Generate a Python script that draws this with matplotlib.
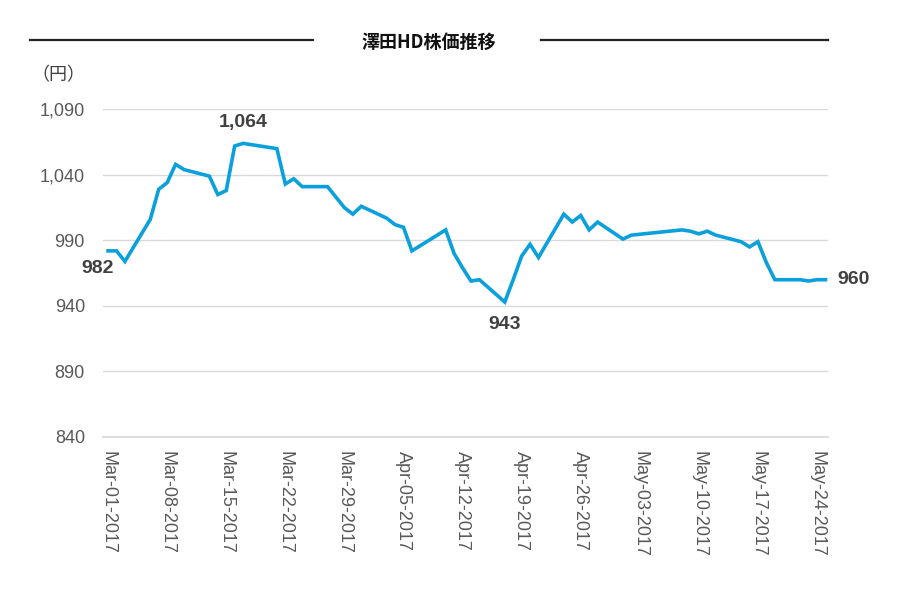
import matplotlib
matplotlib.use("Agg")
import matplotlib.pyplot as plt
import matplotlib.dates as mdates
from matplotlib.lines import Line2D
from matplotlib.ticker import FuncFormatter
import pandas as pd

plt.rcParams['font.family'] = ['Liberation Sans', 'Noto Sans CJK JP', 'DejaVu Sans']

title = "澤田HD株価推移"
unit_label = "（円）"

dates = [
    "2017-03-01", "2017-03-02", "2017-03-03", "2017-03-06", "2017-03-07", "2017-03-08",
    "2017-03-09", "2017-03-10", "2017-03-13", "2017-03-14", "2017-03-15", "2017-03-16",
    "2017-03-17", "2017-03-21", "2017-03-22", "2017-03-23", "2017-03-24", "2017-03-27",
    "2017-03-28", "2017-03-29", "2017-03-30", "2017-03-31",
    "2017-04-03", "2017-04-04", "2017-04-05", "2017-04-06", "2017-04-07", "2017-04-10",
    "2017-04-11", "2017-04-12", "2017-04-13", "2017-04-14", "2017-04-17", "2017-04-18",
    "2017-04-19", "2017-04-20", "2017-04-21", "2017-04-24", "2017-04-25", "2017-04-26",
    "2017-04-27", "2017-04-28",
    "2017-05-01", "2017-05-02", "2017-05-08", "2017-05-09", "2017-05-10", "2017-05-11",
    "2017-05-12", "2017-05-15", "2017-05-16", "2017-05-17", "2017-05-18", "2017-05-19",
    "2017-05-22", "2017-05-23", "2017-05-24", "2017-05-25",
]
prices = [
    982, 982, 974, 1006, 1029, 1034, 1048, 1044, 1039, 1025, 1028, 1062,
    1064, 1060, 1033, 1037, 1031, 1031, 1023, 1015, 1010, 1016,
    1007, 1002, 1000, 982, 986, 998, 980, 969, 959, 960, 943, 960,
    978, 987, 977, 1010, 1004, 1009, 998, 1004,
    991, 994, 998, 997, 995, 997, 994, 989, 985, 989, 973, 960,
    960, 959, 960, 960,
]

# labelled points: (date, value, x offset px, y offset px, ha)
labels = [
    ("2017-03-01", 982, -11, -18, "center"),
    ("2017-03-17", 1064, 0, 21, "center"),
    ("2017-04-17", 943, 0, -23, "center"),
    ("2017-05-25", 960, 12, 0, "left"),
]

y_ticks = [840, 890, 940, 990, 1040, 1090]
x_ticks = pd.date_range("2017-03-01", "2017-05-24", freq="7D")
x_labels = [d.strftime("%b-%d-%Y") for d in x_ticks]

W, H = 898, 591
fig = plt.figure(figsize=(W / 100, H / 100), dpi=100)
ax = fig.add_axes([103 / W, 1 - 437 / H, (828 - 103) / W, (437 - 109.3) / H])

dt = pd.to_datetime(dates)
ax.plot(dt, prices, color="#0AA0DC", lw=2.6, solid_joinstyle="miter", zorder=3)

x0 = mdates.date2num(pd.Timestamp("2017-03-01"))
ax.set_xlim(x0 - 0.6, x0 + 85.3)
ax.set_ylim(840, 1090)

ax.set_yticks(y_ticks)
ax.yaxis.set_major_formatter(FuncFormatter(lambda v, p: f"{v:,.0f}"))
ax.set_xticks(x_ticks, labels=x_labels, rotation=-90, rotation_mode="anchor",
              ha="left", va="center")
ax.tick_params(axis="y", length=0, pad=13, labelsize=13, labelcolor="#595959")
ax.tick_params(axis="x", length=0, pad=10, labelsize=13, labelcolor="#595959")
ax.grid(axis="y", color="#d9d9d9", lw=1)
ax.grid(axis="x", visible=False)
ax.axhline(840, color="#d9d9d9", lw=1.2, clip_on=False, zorder=1)
for s in ax.spines.values():
    s.set_visible(False)

for d, v, dx, dy, ha in labels:
    ax.annotate(f"{v:,}", (pd.Timestamp(d), v), xytext=(dx, dy),
                textcoords="offset pixels", ha=ha, va="center",
                fontsize=14, fontweight="bold", color="#404040")

fig.text(429 / W, 1 - 42 / H, title, ha="center", va="center", fontsize=13,
         fontweight="bold", family=["Noto Sans CJK JP"], color="#111111")
fig.add_artist(Line2D([30 / W, 313 / W], [1 - 40 / H] * 2, color="#222222", lw=1.6))
fig.add_artist(Line2D([541 / W, 828 / W], [1 - 40 / H] * 2, color="#222222", lw=1.6))
fig.text(58 / W, 1 - 75 / H, unit_label, ha="center", va="center", fontsize=13,
         color="#404040", family=["Noto Sans CJK JP"])

fig.savefig("out.png", dpi=100)
